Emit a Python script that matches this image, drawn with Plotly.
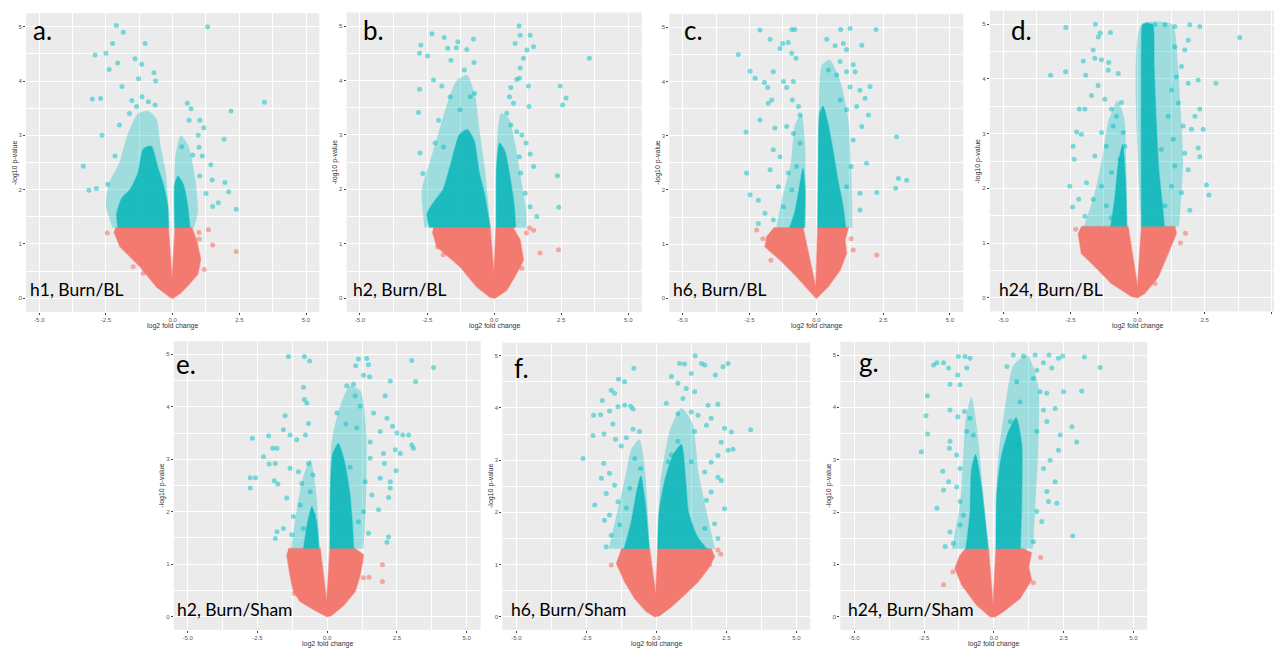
import plotly.graph_objects as go

W, H = 1274, 649

# ---------------- data (log2 fold change, -log10 p-value) ----------------
# Panel a: h1, Burn/BL
a_red_x = [-2.15, -0.16, -0.02, 0.09, 0.72, 0.9, 1.05, 0.95, 0.6, 0.28, 0.0, -0.1, -0.6, -1.22, -1.97, -2.2]
a_red_y = [1.3, 1.3, 0.35, 1.3, 1.3, 1.07, 0.72, 0.45, 0.25, 0.09, 0.0, 0.02, 0.21, 0.58, 0.95, 1.22]
a_core_x = [-2.05, -2.1, -1.9, -1.6, -1.3, -1.1, -0.8, -0.55, -0.35, -0.18, -0.15, None, 0.08, 0.08, 0.2, 0.4, 0.55, 0.65]
a_core_y = [1.3, 1.55, 1.85, 2.0, 2.3, 2.75, 2.8, 2.4, 2.1, 1.7, 1.3, None, 1.3, 2.1, 2.25, 2.1, 1.75, 1.3]
a_halo_x = [-2.25, -2.5, -2.4, -2.0, -1.7, -1.3, -0.9, -0.6, -0.45, -0.25, -0.14, None, 0.07, 0.1, 0.3, 0.6, 0.85, 0.95, 0.8]
a_halo_y = [1.3, 1.7, 2.1, 2.5, 3.0, 3.4, 3.45, 3.3, 2.8, 2.3, 1.3, None, 1.3, 2.6, 3.0, 2.8, 2.2, 1.6, 1.3]
a_pts_x = [-2.11, -1.85, -2.25, -1.03, -2.91, -2.5, -2.06, -2.38, -1.41, -1.16, -0.7, -0.64, -1.28, -1.9, -3.01, -2.7,
           -1.53, -1.15, -0.91, -0.66, -2.65, -3.35, -3.14, -2.86, -2.44, -2.16, -2.0, -1.62, -1.35,
           1.31, 3.44, 2.19, 1.93, 1.96, 2.1, 2.38, 1.43, 1.48, 1.71, 1.5, 0.55, 0.69, 1.02, 1.17, 0.96, 0.99,
           0.62, 0.34, 0.75, 1.11, 1.01, 1.25]
a_pts_y = [5.02, 4.9, 4.69, 4.69, 4.48, 4.51, 4.33, 4.21, 4.41, 4.31, 4.15, 4.0, 4.04, 3.9, 3.67, 3.68,
           3.64, 3.71, 3.62, 3.56, 3.0, 2.43, 1.99, 2.02, 2.1, 2.62, 3.19, 3.4, 3.53,
           5.0, 3.61, 3.45, 2.93, 2.13, 1.96, 1.64, 2.46, 2.18, 1.76, 1.69, 3.59, 3.49, 3.28, 3.14, 3.0, 2.78,
           3.28, 2.79, 2.64, 2.62, 2.25, 1.93]
a_rpts_x = [-2.45, 1.0, 1.34, 1.5, 2.38, 1.18, 0.99, -1.48, -1.1]
a_rpts_y = [1.2, 1.09, 1.26, 0.98, 0.86, 0.53, 1.21, 0.58, 0.46]

# Panel b: h2, Burn/BL
b_red_x = [-2.26, -0.15, -0.01, 0.07, 0.7, 0.97, 1.09, 0.84, 0.47, 0.03, -0.15, -0.65, -1.27, -2.14, -2.3]
b_red_y = [1.3, 1.3, 0.45, 1.3, 1.3, 1.07, 0.7, 0.46, 0.15, 0.0, 0.02, 0.21, 0.58, 0.95, 1.22]
b_core_x = [-2.4, -2.5, -2.2, -1.9, -1.6, -1.3, -1.0, -0.75, -0.55, -0.35, -0.15, None, 0.08, 0.09, 0.2, 0.4, 0.6, 0.75, 0.8]
b_core_y = [1.3, 1.55, 1.8, 2.0, 2.5, 3.0, 3.1, 2.9, 2.3, 1.9, 1.3, None, 1.3, 2.4, 2.85, 2.7, 2.2, 1.7, 1.3]
b_halo_x = [-2.6, -2.7, -2.4, -2.1, -1.8, -1.4, -1.0, -0.7, -0.55, -0.35, -0.14, None, 0.07, 0.1, 0.25, 0.55, 0.8, 1.0, 1.2, 1.2]
b_halo_y = [1.3, 2.0, 2.5, 3.0, 3.5, 4.0, 4.1, 3.7, 3.1, 2.4, 1.3, None, 1.3, 2.8, 3.4, 3.3, 2.8, 2.2, 1.6, 1.3]
b_pts_x = [-2.78, -2.73, -2.32, -2.48, -1.86, -1.73, -1.35, -1.41, -1.02, -0.77, -1.61, -1.11, -0.75, -2.78, -2.26,
           -1.95, -2.82, -2.76, -2.66, -2.2, -1.89, -2.07, -1.64, -1.27, -0.89, -0.73,
           0.93, 0.97, 0.78, 1.34, 1.47, 1.22, 1.09, 0.97, 0.94, 0.84, 1.28, 1.3, 0.62, 0.57, 0.72, 0.47, 0.62, 0.84,
           1.03, 1.19, 0.94, 1.34, 1.47, 0.99, 1.16, 1.34, 1.59, 2.46, 2.55, 2.68, 3.55, 2.36, 2.41]
b_pts_y = [4.5, 4.65, 4.86, 4.45, 4.79, 4.59, 4.71, 4.6, 4.57, 4.76, 4.37, 4.19, 4.33, 3.84, 4.01,
           3.9, 3.41, 2.67, 2.29, 2.85, 2.78, 3.27, 3.7, 3.46, 3.7, 3.76,
           5.0, 4.83, 4.68, 4.83, 4.62, 4.56, 4.41, 4.23, 4.04, 4.02, 3.9, 3.52, 3.87, 3.7, 3.58, 3.4, 3.18, 3.06,
           3.0, 2.85, 2.6, 2.65, 2.42, 2.3, 1.93, 1.68, 1.5, 3.9, 3.55, 3.68, 4.41, 2.25, 1.67]
b_rpts_x = [-2.1, 1.71, 2.4, 1.32, 1.47, 1.03, 1.2, -1.9]
b_rpts_y = [0.94, 0.83, 0.89, 1.29, 1.25, 0.55, 1.2, 0.8]

# Panel c: h6, Burn/BL
c_red_x = [-1.6, -0.5, -0.02, 0.05, 1.2, 1.07, 1.13, 0.89, 0.45, 0.0, -0.17, -0.74, -1.36, -1.92, -1.85]
c_red_y = [1.3, 1.3, 0.2, 1.3, 1.3, 1.08, 0.83, 0.52, 0.22, 0.0, 0.09, 0.4, 0.71, 0.95, 1.15]
c_core_x = [-1.0, -0.8, -0.65, -0.5, -0.42, -0.45, None, 0.05, 0.08, 0.12, 0.25, 0.4, 0.6, 0.8, 1.0, 1.1]
c_core_y = [1.3, 1.6, 2.0, 2.4, 2.0, 1.3, None, 1.3, 2.5, 3.4, 3.55, 3.3, 2.8, 2.2, 1.7, 1.3]
c_halo_x = [-1.5, -1.3, -0.95, -0.8, -0.55, -0.42, -0.4, None, 0.04, 0.1, 0.2, 0.5, 0.9, 1.2, 1.3, 1.35]
c_halo_y = [1.3, 1.8, 2.5, 3.2, 3.4, 2.8, 1.3, None, 1.3, 3.6, 4.3, 4.4, 4.0, 3.3, 2.4, 1.3]
c_pts_x = [-2.92, -2.48, -2.29, -2.11, -0.92, -0.8, -1.73, -1.26, -1.36, -1.05, -0.76, -0.92, -1.61, -1.94, -1.82,
           -1.23, -0.86, -1.11, -1.8, -1.67, -0.9, -0.67, -0.61, -2.63, -2.11, -1.55, -1.11, -0.86, -2.61, -2.48,
           -2.17, -1.92, -2.17, -1.61, -1.73, -1.36, -1.05, -1.42, -1.23, -0.92, -1.61, -0.74, -0.61,
           0.91, 1.26, 2.23, 0.39, 0.7, 1.01, 1.7, 1.13, 0.89, 1.38, 0.45, 0.76, 1.13, 1.45, 1.63, 2.01, 1.82, 1.95,
           1.51, 1.7, 1.38, 1.88, 1.63, 1.63, 1.13, 1.3, 3.0, 2.97, 3.07, 3.38, 2.26, 1.26, 0.89, 1.13]
c_pts_y = [4.5, 4.19, 4.06, 4.95, 4.96, 4.96, 4.78, 4.7, 4.61, 4.72, 4.43, 4.52, 4.18, 3.98, 3.89,
           4.0, 4.0, 3.89, 3.6, 3.66, 3.66, 3.54, 3.38, 3.07, 3.29, 3.14, 3.17, 3.04, 2.31, 1.91,
           1.81, 1.57, 1.38, 2.74, 2.37, 2.61, 2.31, 2.06, 1.69, 2.0, 1.45, 2.43, 2.86,
           4.96, 4.98, 4.96, 4.78, 4.66, 4.7, 4.67, 4.59, 4.37, 4.31, 4.21, 4.12, 4.18, 4.18, 3.84, 3.91, 3.69, 3.38,
           3.54, 3.17, 2.92, 2.49, 1.94, 1.63, 2.06, 2.43, 2.98, 2.03, 2.21, 2.18, 1.95, 3.9, 3.66, 3.48]
c_rpts_x = [2.26, 1.38, -2.23, -2.0, 1.3, -1.7]
c_rpts_y = [0.8, 0.89, 1.26, 1.1, 1.1, 0.7]

# Panel d: h24, Burn/BL
d_red_x = [-2.1, -0.35, 0.0, 0.15, 1.39, 1.45, 1.14, 0.77, 0.27, 0.0, -0.22, -0.97, -1.59, -2.09, -2.21]
d_red_y = [1.3, 1.3, 0.2, 1.3, 1.3, 1.18, 0.81, 0.38, 0.08, 0.0, 0.02, 0.26, 0.57, 0.81, 1.18]
d_core_x = [-1.0, -0.85, -0.7, -0.55, -0.45, -0.4, None, 0.15, 0.15, 0.2, 0.55, 0.62, 0.7, 0.8, 0.95, 1.0]
d_core_y = [1.3, 1.8, 2.5, 2.8, 2.2, 1.3, None, 1.3, 4.6, 5.0, 5.0, 4.2, 3.2, 2.3, 1.6, 1.3]
d_halo_x = [-2.0, -1.6, -1.3, -1.1, -0.75, -0.5, -0.4, -0.38, None, 0.14, 0.14, 1.3, 1.5, 1.6, 1.7, 1.55]
d_halo_y = [1.3, 1.9, 2.6, 3.2, 3.6, 3.3, 2.0, 1.3, None, 1.3, 5.0, 5.0, 4.3, 3.5, 2.5, 1.3]
d_pts_x = [-2.67, -1.57, -1.39, -1.46, -1.01, -3.24, -2.68, -1.93, -2.02, -1.65, -1.59, -1.34, -1.07, -1.09, -0.72,
           -1.47, -1.71, -1.22, -0.97, -0.78, -0.6, -2.17, -1.96, -2.27, -2.09, -2.4, -2.36, -2.52, -2.42, -2.19,
           -1.9, -1.59, -1.34, -1.16, -0.91, -0.53, -0.47, -0.97, -1.34, -1.65, -1.96, -1.16, -0.72, -0.53, -0.97,
           -0.66,
           0.34, 0.65, 1.02, 1.39, 1.95, 2.32, 3.81, 2.26, 1.89, 2.92, 2.32, 2.14, 2.01, 2.45, 2.26, 2.32, 2.57,
           2.66, 1.95, 1.89, 1.76, 1.7, 1.52, 1.64, 1.76, 1.89, 1.39, 1.45, 1.27, 1.14, 1.33, 1.39, 1.27, 1.64,
           1.02, 0.89]
d_pts_y = [4.94, 5.0, 4.84, 4.77, 4.85, 4.07, 4.13, 4.07, 4.33, 4.53, 4.38, 4.35, 4.3, 4.16, 4.1,
           3.88, 3.7, 3.63, 3.45, 3.32, 3.57, 3.45, 3.45, 3.03, 2.99, 2.77, 2.53, 2.04, 1.66, 1.8,
           2.1, 2.59, 3.02, 2.77, 3.14, 3.02, 2.77, 2.29, 2.04, 1.8, 1.49, 1.68, 1.85, 1.54, 1.46,
           2.53,
           4.99, 4.99, 4.99, 4.96, 4.99, 4.96, 4.76, 3.98, 3.92, 3.92, 3.45, 3.32, 3.08, 3.08, 2.74, 2.58, 2.06,
           1.88, 1.6, 2.34, 2.64, 3.14, 3.56, 4.23, 4.53, 4.71, 4.59, 4.04, 3.8, 3.32, 2.9, 2.41, 2.04, 1.92,
           1.68, 2.71]
d_rpts_x = [1.79, 0.65, -2.3, 1.6]
d_rpts_y = [1.18, 0.26, 1.25, 1.0]

# Panel e: h2, Burn/Sham
e_red_x = [-1.39, -0.25, -0.02, 0.1, 1.0, 1.3, 1.18, 1.0, 0.59, 0.17, 0.0, -0.37, -0.97, -1.21, -1.33, -1.45]
e_red_y = [1.3, 1.3, 0.29, 1.3, 1.3, 1.18, 0.79, 0.48, 0.22, 0.03, 0.0, 0.1, 0.29, 0.48, 0.79, 1.18]
e_core_x = [-0.85, -0.7, -0.55, -0.38, -0.3, None, 0.1, 0.12, 0.2, 0.4, 0.6, 0.8, 0.9, 0.95]
e_core_y = [1.3, 1.8, 2.1, 1.8, 1.3, None, 1.3, 2.5, 3.1, 3.3, 3.0, 2.4, 1.8, 1.3]
e_halo_x = [-1.3, -1.1, -0.9, -0.6, -0.4, -0.27, None, 0.09, 0.15, 0.4, 0.8, 1.2, 1.4, 1.4, 1.3]
e_halo_y = [1.3, 2.0, 2.6, 3.0, 2.4, 1.3, None, 1.3, 3.3, 3.9, 4.4, 4.3, 3.5, 2.4, 1.3]
e_pts_x = [-1.39, -0.82, -0.63, -0.85, -0.82, -0.73, -1.51, -2.68, -2.1, -1.57, -1.33, -1.09, -0.78, -0.67,
           -1.95, -1.8, -2.28, -2.08, -1.86, -1.33, -1.03, -2.76, -2.57, -2.76, -1.9, -1.77, -1.45, -1.21, -0.97,
           -0.61, -1.86, -1.8, -1.57, -1.27, -0.85, -0.49, -0.67, -0.51, -0.91,
           1.12, 1.42, 1.48, 1.02, 3.03, 3.81, 3.17, 2.26, 1.3, 1.52, 0.94, 0.7, 1.0, 1.18, 2.08, 2.14, 1.66,
           0.35, 0.67, 1.9, 2.34, 2.5, 2.71, 2.92, 3.03, 3.09, 2.44, 2.62, 2.02, 1.54, 2.05, 2.47, 1.9, 2.26,
           2.26, 2.2, 1.84, 1.6, 1.36, 1.3, 2.2, 2.14, 1.12, 1.48, 0.82, 1.54, 1.06]
e_pts_y = [4.96, 4.96, 4.87, 4.37, 4.14, 4.07, 3.83, 3.4, 3.45, 3.56, 3.46, 3.37, 3.46, 3.68,
           3.21, 3.21, 3.05, 2.91, 2.92, 2.83, 2.76, 2.65, 2.65, 2.45, 2.59, 2.53, 2.26, 1.91, 2.13,
           2.38, 1.49, 1.62, 1.68, 1.56, 1.68, 1.94, 2.92, 2.7, 2.54,
           4.91, 4.92, 4.8, 4.78, 4.88, 4.75, 4.48, 4.49, 4.6, 4.57, 4.43, 4.4, 4.21, 4.01, 4.21, 3.78, 3.88,
           3.88, 3.67, 3.53, 3.63, 3.5, 3.46, 3.46, 3.27, 3.21, 3.18, 3.11, 3.11, 3.02, 2.92, 2.78, 2.64, 2.57,
           2.45, 2.27, 2.04, 2.32, 2.57, 2.0, 1.52, 1.42, 1.81, 1.59, 2.85, 3.33, 3.6]
e_rpts_x = [1.98, 1.98, 1.3, -1.18, 1.5, 1.2]
e_rpts_y = [0.99, 0.67, 0.74, 0.44, 0.75, 1.05]

# Panel f: h6, Burn/Sham
f_red_x = [-1.25, -0.24, -0.02, 0.05, 1.96, 2.08, 1.85, 1.49, 1.01, 0.54, 0.12, 0.0, -0.06, -0.36, -0.77, -1.13,
           -1.31, -1.43]
f_red_y = [1.3, 1.3, 0.42, 1.3, 1.3, 1.15, 0.92, 0.67, 0.42, 0.19, 0.02, 0.0, 0.0, 0.1, 0.35, 0.67, 0.9, 1.03]
f_core_x = [-1.15, -0.9, -0.7, -0.55, -0.4, -0.25, None, 0.05, 0.1, 0.3, 0.6, 0.9, 1.05, 1.15, 1.45, 1.8]
f_core_y = [1.3, 1.8, 2.4, 2.7, 2.2, 1.3, None, 1.3, 2.0, 2.6, 3.1, 3.3, 2.6, 2.0, 1.55, 1.3]
f_halo_x = [-1.7, -1.4, -1.1, -0.9, -0.6, -0.4, -0.24, None, 0.04, 0.15, 0.5, 0.9, 1.3, 1.5, 1.8, 2.1]
f_halo_y = [1.3, 2.0, 2.7, 3.2, 3.4, 2.8, 1.3, None, 1.3, 2.6, 3.6, 4.0, 3.7, 2.8, 2.0, 1.3]
f_pts_x = [-0.8, -1.35, -1.13, -1.61, -1.93, -1.49, -1.37, -1.13, -0.92, -0.83, -2.24, -1.99, -1.67, -1.55,
           -2.26, -2.62, -1.87, -1.46, -1.25, -1.07, -0.83, -0.6, -0.77, -0.56, -1.88, -1.67, -1.96, -1.49,
           -1.79, -2.2, -1.85, -1.67, -1.79, -1.61, -1.31, -1.07, -1.37, -0.95,
           1.39, 0.83, 1.01, 1.61, 1.73, 2.56, 2.38, 2.11, 0.54, 0.77, 1.25, 1.07, 1.37, 0.95, 0.36, 1.85, 2.2,
           0.77, 1.25, 1.49, 1.79, 1.96, 2.44, 2.68, 3.37, 2.56, 2.74, 2.32, 2.2, 1.96, 1.73, 2.2, 2.32, 1.96,
           1.79, 2.44, 2.08, 1.73, 2.2, 1.37, 0.77, 0.54, 1.25, 0.42]
f_pts_y = [4.76, 4.55, 4.5, 4.34, 4.14, 4.28, 4.02, 4.05, 4.03, 3.98, 3.86, 3.87, 3.94, 3.69,
           3.47, 3.03, 3.5, 3.4, 3.27, 3.43, 3.59, 3.55, 3.03, 2.84, 2.94, 2.75, 2.65, 2.52,
           2.36, 2.14, 1.85, 1.95, 1.34, 1.56, 1.76, 2.08, 2.2, 2.46,
           5.0, 4.85, 4.84, 4.85, 4.82, 4.85, 4.79, 4.63, 4.6, 4.47, 4.66, 4.37, 4.31, 4.18, 4.09, 4.05, 4.07,
           3.89, 3.92, 3.86, 3.67, 3.8, 3.61, 3.54, 3.58, 3.19, 3.21, 3.34, 3.09, 2.96, 2.77, 2.67, 2.61, 2.39,
           2.23, 2.07, 1.78, 1.69, 1.5, 3.55, 3.36, 3.1, 2.97, 2.97]
f_rpts_x = [-1.61, 2.2, 2.3, 1.9]
f_rpts_y = [0.99, 1.28, 1.2, 1.0]

# Panel g: h24, Burn/Sham
g_red_x = [-1.03, -0.19, -0.03, 0.08, 1.06, 1.35, 1.25, 1.35, 0.94, 0.35, 0.05, -0.13, -0.61, -1.15, -1.39, -1.21]
g_red_y = [1.3, 1.3, 0.22, 1.3, 1.3, 1.22, 0.95, 0.7, 0.35, 0.1, 0.0, 0.0, 0.22, 0.61, 0.92, 1.18]
g_core_x = [-1.0, -0.85, -0.8, -0.65, -0.45, -0.3, -0.2, None, 0.08, 0.1, 0.25, 0.5, 0.8, 1.0, 1.0, 0.95]
g_core_y = [1.3, 2.0, 2.8, 3.1, 2.5, 1.8, 1.3, None, 1.3, 2.3, 3.0, 3.5, 3.8, 3.3, 2.2, 1.3]
g_halo_x = [-1.5, -1.2, -1.1, -1.0, -0.8, -0.6, -0.35, -0.19, None, 0.07, 0.15, 0.4, 0.7, 1.2, 1.6, 1.6, 1.5, 1.4]
g_halo_y = [1.3, 2.2, 3.0, 3.8, 4.2, 3.6, 2.2, 1.3, None, 1.3, 3.0, 4.0, 4.8, 5.0, 4.4, 3.3, 2.2, 1.3]
g_pts_x = [-2.04, -1.8, -2.16, -1.62, -1.27, -1.03, -0.85, -0.97, -1.29, -1.21, -1.57, -2.38, -2.43, -2.37,
           -2.6, -1.57, -1.29, -1.05, -0.85, -0.97, -0.73, -1.57, -1.59, -1.33, -1.21, -1.83, -1.62, -1.33, -1.8,
           -2.04, -1.21, -1.74, -1.45, -1.57, -1.21, -1.09,
           0.7, 1.06, 1.48, 1.98, 2.47, 3.25, 3.81, 2.32, 2.08, 1.78, 1.54, 1.42, 1.66, 1.9, 2.5, 3.15, 0.94,
           1.78, 2.2, 2.8, 2.97, 2.38, 2.32, 2.02, 1.78, 2.2, 1.9, 2.26, 1.96, 1.54, 1.72, 1.42, 2.83, 1.9, 1.54,
           0.88, 0.59, 0.82, 0.47]
g_pts_y = [4.85, 4.85, 4.81, 4.75, 4.97, 4.97, 4.94, 4.75, 4.62, 4.43, 4.44, 4.22, 3.84, 3.49,
           3.15, 3.95, 3.82, 3.92, 3.79, 3.54, 3.47, 3.35, 3.22, 3.09, 2.83, 2.78, 2.58, 2.48, 2.42,
           2.07, 2.2, 1.34, 1.4, 1.62, 1.75, 1.94,
           5.0, 4.98, 5.0, 5.0, 4.98, 4.96, 4.76, 4.94, 4.75, 4.85, 4.71, 4.55, 4.3, 4.27, 4.3, 4.31, 4.1,
           3.95, 3.98, 3.63, 3.34, 3.47, 3.18, 2.99, 2.83, 2.58, 2.39, 2.17, 2.2, 2.01, 1.82, 1.43, 1.54, 3.73, 3.54,
           3.28, 3.73, 4.49, 4.78]
g_rpts_x = [-1.8, -1.47, 1.68, 1.18, 1.42]
g_rpts_y = [0.61, 0.86, 1.13, 0.8, 0.65]

panel_letters = ["a.", "b.", "c.", "d.", "e.", "f.", "g."]
panel_titles = ["h1, Burn/BL", "h2, Burn/BL", "h6, Burn/BL", "h24, Burn/BL",
                "h2, Burn/Sham", "h6, Burn/Sham", "h24, Burn/Sham"]
x_ticks = [-5.0, -2.5, 0.0, 2.5, 5.0]
y_ticks = [0, 1, 2, 3, 4, 5]

panel_data = [
    (a_red_x, a_red_y, a_core_x, a_core_y, a_halo_x, a_halo_y, a_pts_x, a_pts_y, a_rpts_x, a_rpts_y),
    (b_red_x, b_red_y, b_core_x, b_core_y, b_halo_x, b_halo_y, b_pts_x, b_pts_y, b_rpts_x, b_rpts_y),
    (c_red_x, c_red_y, c_core_x, c_core_y, c_halo_x, c_halo_y, c_pts_x, c_pts_y, c_rpts_x, c_rpts_y),
    (d_red_x, d_red_y, d_core_x, d_core_y, d_halo_x, d_halo_y, d_pts_x, d_pts_y, d_rpts_x, d_rpts_y),
    (e_red_x, e_red_y, e_core_x, e_core_y, e_halo_x, e_halo_y, e_pts_x, e_pts_y, e_rpts_x, e_rpts_y),
    (f_red_x, f_red_y, f_core_x, f_core_y, f_halo_x, f_halo_y, f_pts_x, f_pts_y, f_rpts_x, f_rpts_y),
    (g_red_x, g_red_y, g_core_x, g_core_y, g_halo_x, g_halo_y, g_pts_x, g_pts_y, g_rpts_x, g_rpts_y),
]

# ---------------- layout geometry (pixel positions of x=-5, x=5, y=5, y=0) ----------------
geom = [
    (39.3, 306.0, 26.7, 298.3),
    (360.0, 628.3, 26.0, 298.3),
    (682.7, 950.0, 27.3, 298.3),
    (1003.3, 1271.7, 24.3, 297.7),
    (187.7, 466.7, 354.3, 616.7),
    (516.3, 796.3, 355.7, 616.7),
    (854.3, 1133.3, 355.0, 616.7),
]
letter_pos = [(31, 30), (361, 30), (682, 30), (1009, 30), (174, 364), (512, 368), (857, 362)]
title_pos = [(28, 289), (351, 289), (671, 289), (997, 289), (175, 609), (509, 609), (846, 609)]

TEAL = "0,191,196"
FONT = "Lato, 'Open Sans', sans-serif"

fig = go.Figure()
layout_axes = {}
annotations = []

for i, (geo, data) in enumerate(zip(geom, panel_data)):
    x0, x1, y5, y0 = geo
    ux = (x1 - x0) / 10.0
    uy = (y0 - y5) / 5.0
    L, R = x0 - 0.5 * ux, x1 + 0.5 * ux
    xr = [-5.5, 5.5]
    if R > W:
        xr[1] = 5 + (W - x1) / ux
        R = W
    T, B = y5 - 0.25 * uy, y0 + 0.25 * uy
    n = "" if i == 0 else str(i + 1)
    xa, ya = "x" + n, "y" + n
    rx, ry, cx, cy, hx, hy, px, py, qx, qy = data

    # dense red (non-significant) cloud
    fig.add_trace(go.Scatter(x=rx, y=ry, xaxis=xa, yaxis=ya, mode="lines", fill="toself",
                             fillcolor="rgb(243,122,112)",
                             line=dict(width=1.5, color="rgba(248,118,109,0.5)"),
                             hoverinfo="skip", showlegend=False))
    # sparse teal halo
    fig.add_trace(go.Scatter(x=hx, y=hy, xaxis=xa, yaxis=ya, mode="lines", fill="toself",
                             fillcolor=f"rgba({TEAL},0.32)",
                             line=dict(width=0, shape="spline", smoothing=0.6),
                             hoverinfo="skip", showlegend=False))
    # dense teal core
    fig.add_trace(go.Scatter(x=cx, y=cy, xaxis=xa, yaxis=ya, mode="lines", fill="toself",
                             fillcolor="rgba(0,178,183,0.82)",
                             line=dict(width=1.5, color=f"rgba({TEAL},0.35)", shape="spline", smoothing=0.6),
                             hoverinfo="skip", showlegend=False))
    fig.add_trace(go.Scatter(x=qx, y=qy, xaxis=xa, yaxis=ya, mode="markers",
                             marker=dict(size=5, color="rgba(248,118,109,0.6)", line=dict(width=0)),
                             hoverinfo="skip", showlegend=False))
    fig.add_trace(go.Scatter(x=px, y=py, xaxis=xa, yaxis=ya, mode="markers",
                             marker=dict(size=5, color=f"rgba({TEAL},0.5)", line=dict(width=0)),
                             hoverinfo="skip", showlegend=False))

    common = dict(showgrid=True, gridcolor="white", gridwidth=1, zeroline=False, showline=False,
                  ticks="outside", ticklen=2, tickwidth=0.6, tickcolor="#444",
                  tickfont=dict(size=6, color="#555", family="Arial"), fixedrange=True)
    layout_axes["xaxis" + n] = dict(common, domain=[L / W, R / W], range=xr, anchor=ya,
                                    tickvals=x_ticks, ticktext=[f"{v:.1f}" for v in x_ticks],
                                    minor=dict(showgrid=True, gridcolor="white", gridwidth=0.5,
                                               tickvals=[-3.75, -1.25, 1.25, 3.75], ticks=""))
    layout_axes["yaxis" + n] = dict(common, domain=[1 - B / H, 1 - T / H], range=[-0.25, 5.25], anchor=xa,
                                    tickvals=y_ticks, ticktext=[str(v) for v in y_ticks],
                                    minor=dict(showgrid=True, gridcolor="white", gridwidth=0.5,
                                               tickvals=[0.5, 1.5, 2.5, 3.5, 4.5], ticks=""))

    # axis titles
    annotations.append(dict(text="log2 fold change", x=((x0 + x1) / 2) / W,
                            y=1 - (B + 14.5) / H, xref="paper", yref="paper", showarrow=False,
                            font=dict(size=7, color="#333", family="Arial"), xanchor="center", yanchor="middle"))
    annotations.append(dict(text="-log10 p-value", x=(L - 11.5) / W, y=1 - ((T + B) / 2) / H,
                            xref="paper", yref="paper", showarrow=False, textangle=-90,
                            font=dict(size=7, color="#333", family="Arial"), xanchor="center", yanchor="middle"))
    # panel letter and condition label
    lx, ly = letter_pos[i]
    annotations.append(dict(text=panel_letters[i], x=lx / W, y=1 - ly / H, xref="paper", yref="paper",
                            showarrow=False, font=dict(size=26, color="black", family=FONT),
                            xanchor="left", yanchor="middle"))
    tx, ty = title_pos[i]
    annotations.append(dict(text=panel_titles[i], x=tx / W, y=1 - ty / H, xref="paper", yref="paper",
                            showarrow=False, font=dict(size=17.5, color="black", family=FONT),
                            xanchor="left", yanchor="middle"))

fig.update_layout(width=W, height=H, margin=dict(l=0, r=0, t=0, b=0),
                  paper_bgcolor="white", plot_bgcolor="#EBEBEB",
                  annotations=annotations, **layout_axes)

fig.write_html("out.html")
